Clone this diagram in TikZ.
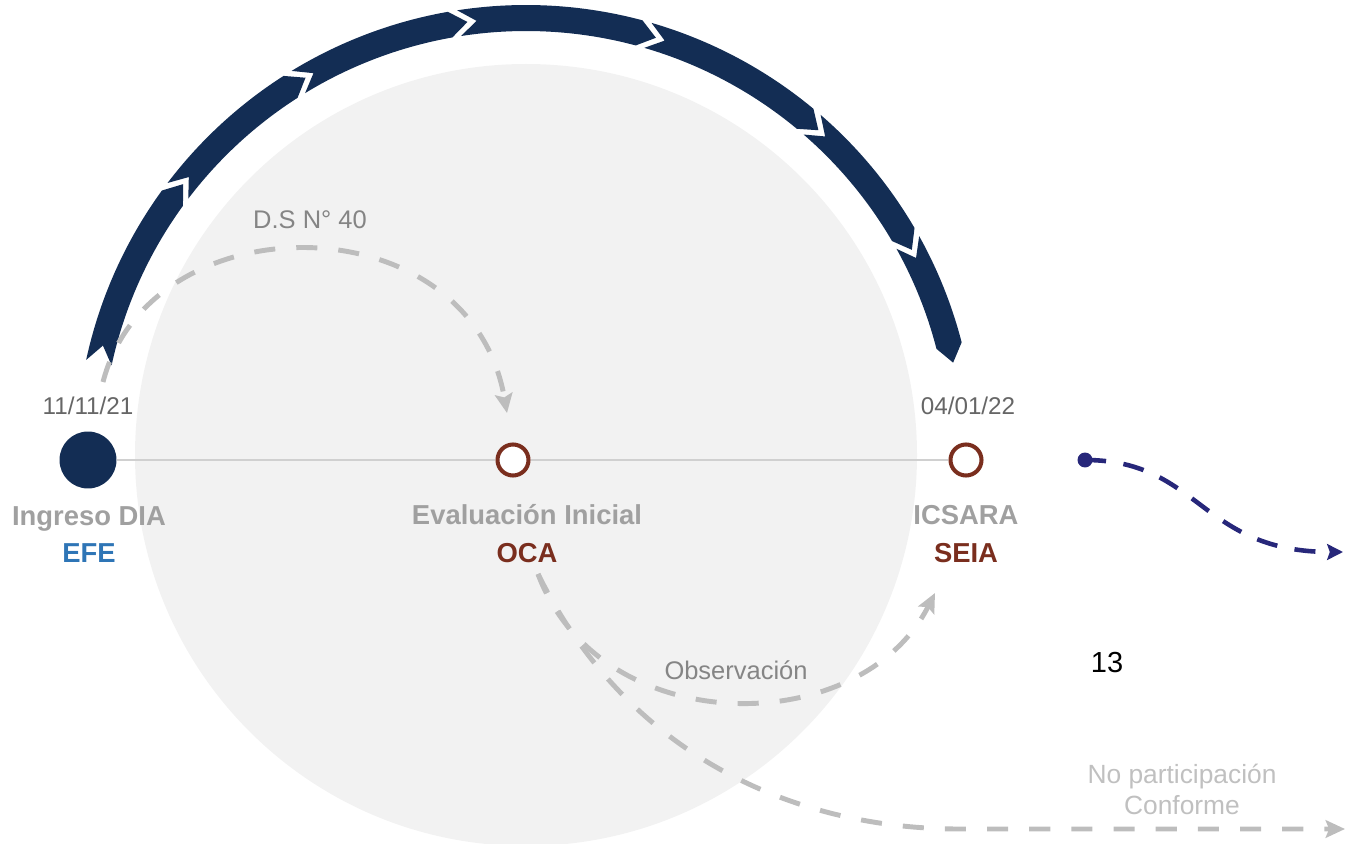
\documentclass[tikz,border=0pt]{standalone}
\usepackage{fontspec}
\setmainfont{Liberation Sans}
\usetikzlibrary{arrows.meta}
\definecolor{navy}{HTML}{132D54}
\definecolor{circgrey}{HTML}{F2F2F2}
\definecolor{lblgrey}{HTML}{A0A0A0}
\definecolor{efeblue}{HTML}{2E75B6}
\definecolor{ocabrown}{HTML}{7A2E1E}
\definecolor{dategrey}{HTML}{666666}
\definecolor{notegrey}{HTML}{858585}
\definecolor{faintgrey}{HTML}{C0C0C0}
\definecolor{dashgrey}{HTML}{BDBDBD}
\definecolor{indigoc}{HTML}{27277A}
\definecolor{tlgrey}{HTML}{D0D0D0}
\newcommand{\chevseg}[2]{%
  \fill[seg] (-#1:450) arc[start angle=-#1, end angle=-#2, radius=450]
    -- ({-(#2-2.3)}:437) -- (-#2:424)
    arc[start angle=-#2, end angle=-#1, radius=424]
    -- ({-(#1-2.3)}:437) -- cycle;}
\begin{document}
\begin{tikzpicture}[x=0.02cm,y=-0.02cm,
  bigdot/.style={circle, fill=navy, minimum size=1.14cm, inner sep=0pt},
  ring/.style={circle, draw=ocabrown, line width=2.3pt, fill=white, minimum size=0.62cm, inner sep=0pt},
  datelbl/.style={anchor=base, text=dategrey, font=\fontsize{13.8}{16}\selectfont},
  steplbl/.style={anchor=base, text=lblgrey, font=\bfseries\fontsize{15.6}{18}\selectfont},
  actor/.style={anchor=base, font=\bfseries\fontsize{15.6}{18}\selectfont},
  note/.style={anchor=base, text=notegrey, font=\fontsize{14.5}{17}\selectfont},
  gdash/.style={draw=dashgrey, line width=2.8pt, dash pattern=on 12pt off 12pt, -{Stealth[length=11pt,width=10pt,inset=2pt]}},
  tl/.style={draw=tlgrey, line width=1.2pt},
  seg/.style={fill=navy}
]
\useasboundingbox (0,0) rectangle (1352,844);
% background disc
\fill[circgrey] (526,455) circle[radius=391];
% segmented arc
\begin{scope}[shift={(526,455)}]
  \chevseg{167.8}{144}
  \chevseg{142.8}{122.6}
  \chevseg{121.4}{100}
  \chevseg{98.8}{75}
  \chevseg{73.8}{50.3}
  \chevseg{49.1}{30.3}
  \chevseg{29.1}{14.5}
\end{scope}
% timeline nodes
\node[bigdot] (efe) at (88,460) {};
\node[ring] (oca) at (513,460) {};
\node[ring] (seia) at (966,460) {};
\draw[tl] (efe) -- (oca);
\draw[tl] (oca) -- (seia);
% labels
\node[datelbl] (d1) at (88,415) {11/11/21};
\node[datelbl] (d2) at (968,415) {04/01/22};
\node[steplbl] (s1) at (89,525) {Ingreso DIA};
\node[actor, text=efeblue] (a1) at (89,562) {EFE};
\node[steplbl] (s2) at (527,524) {Evaluación Inicial};
\node[actor, text=ocabrown] (a2) at (527,562) {OCA};
\node[steplbl] (s3) at (966,524) {ICSARA};
\node[actor, text=ocabrown] (a3) at (966,562) {SEIA};
\node[note] (ds) at (310,229) {D.S N° 40};
\node[note] (obs) at (736,679) {Observación};
\node[anchor=base, font=\fontsize{16.5}{19}\selectfont] (n13) at (1107,672) {13};
\node[text=faintgrey, align=center, font=\fontsize{15}{17.6}\selectfont] (np) at (1182,789) {No participación\\Conforme};
% dashed connectors
\coordinate (dsS) at (103,382);
\coordinate (dsE) at (507,413);
\draw[gdash] (dsS) .. controls (150,200) and (470,200) .. (dsE);
\coordinate (ocaOut) at (538,574);
\coordinate (obsE) at (935,593);
\draw[gdash] (ocaOut) .. controls (600,741) and (860,741) .. (obsE);
\coordinate (npE) at (1345,829);
\draw[gdash] (ocaOut) .. controls (630,760) and (800,829) .. (960,829) -- (npE);
% blue connector
\node[circle, fill=indigoc, minimum size=0.3cm, inner sep=0pt] (bdot) at (1085,460) {};
\coordinate (bE) at (1343,552);
\draw[indigoc, line width=2.6pt, dash pattern=on 12pt off 10pt, -{Stealth[length=9pt,width=9pt,inset=1.5pt]}] (bdot.center) .. controls (1200,460) and (1200,552) .. (bE);
\end{tikzpicture}
\end{document}
